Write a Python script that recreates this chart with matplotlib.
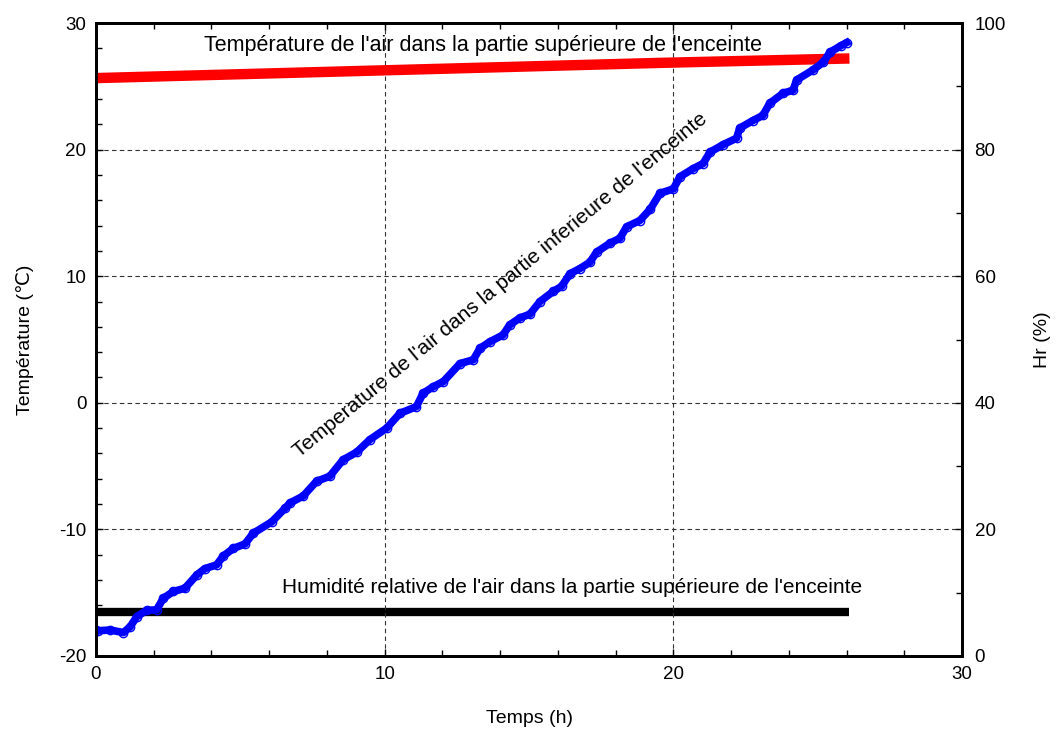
import numpy as np
import matplotlib
matplotlib.use("Agg")
import matplotlib.pyplot as plt

plt.rcParams['font.family'] = ['Liberation Sans', 'DejaVu Sans']
plt.rcParams['axes.unicode_minus'] = False

# ================================
# DATA
# ================================
# lower air temperature (blue)
t_low = [0.0, 0.08, 0.5, 0.95, 1.18, 1.41, 1.75, 2.1, 2.33, 2.68, 3.08, 3.49, 3.77,
         4.18, 4.41, 4.76, 5.16, 5.45, 6.09, 6.55, 6.73, 7.18, 7.64, 8.1, 8.56,
         9.03, 9.49, 10.07, 10.53, 11.1, 11.33, 11.68, 12.03, 12.61, 13.07, 13.3,
         13.65, 14.1, 14.33, 14.68, 15.03, 15.38, 15.84, 16.13, 16.42, 16.76,
         17.11, 17.34, 17.8, 18.15, 18.38, 18.84, 19.2, 19.54, 20.0, 20.23, 20.69,
         21.03, 21.27, 21.73, 22.19, 22.3, 22.76, 23.1, 23.34, 23.8, 24.15, 24.27,
         24.84, 25.19, 25.43, 25.8, 26.0]
T_low = [-17.95, -18.0, -17.95, -18.15, -17.7, -16.9, -16.4, -16.35, -15.45, -14.9,
         -14.65, -13.6, -13.1, -12.8, -12.1, -11.5, -11.15, -10.3, -9.4, -8.33,
         -7.9, -7.36, -6.2, -5.8, -4.5, -3.9, -2.9, -2.0, -0.83, -0.3, 0.75, 1.27,
         1.67, 3.1, 3.4, 4.3, 4.83, 5.36, 6.15, 6.7, 7.0, 8.0, 8.8, 9.2, 10.2, 10.6,
         11.1, 11.9, 12.6, 13.0, 13.9, 14.4, 15.3, 16.55, 16.9, 17.86, 18.5, 18.9,
         19.8, 20.4, 20.9, 21.7, 22.3, 22.7, 23.66, 24.45, 24.7, 25.5, 26.3, 26.9,
         27.7, 28.2, 28.45]

# upper air temperature (red)
t_up = [0.0, 6.5, 13.0, 19.5, 26.1]
T_up = [25.65, 26.05, 26.45, 26.85, 27.2]

# relative humidity (black, right axis)
t_hr = [0.0, 6.5, 13.0, 19.5, 26.1]
hr = [7.0, 7.0, 7.0, 7.0, 7.0]

# ================================
# FIGURE
# ================================
fig = plt.figure(figsize=(10.56, 7.31), dpi=100)
ax1 = fig.add_axes([0.0909, 0.1026, 0.8201, 0.8659])
ax2 = ax1.twinx()

ax1.set_zorder(ax2.get_zorder() + 1)
ax1.patch.set_visible(False)

ax2.plot(t_hr, hr, color='black', lw=6, solid_capstyle='butt')
ax1.plot(t_up, T_up, color='red', lw=7.5, solid_capstyle='butt')
ax1.plot(t_low, T_low, color='blue', lw=5.5, marker='o', ms=6, mfc='none',
         mec='blue', mew=1.0)

ax1.set_xlim(0, 30)
ax1.set_ylim(-20, 30)
ax2.set_ylim(0, 100)

ax1.set_xticks([0, 10, 20, 30])
ax1.set_xticks(np.arange(0, 31, 2), minor=True)
ax1.set_yticks([-20, -10, 0, 10, 20, 30])
ax1.set_yticks(np.arange(-20, 31, 2), minor=True)
ax2.set_yticks([0, 20, 40, 60, 80, 100])
ax2.set_yticks(np.arange(0, 101, 10), minor=True)

ax1.grid(True, which='major', color='#333333', ls=(0, (4, 3)), lw=0.8)

ax1.tick_params(which='both', direction='in', top=True, labelsize=13.5,
                width=1, pad=7)
ax1.tick_params(which='major', length=5)
ax1.tick_params(which='minor', length=4)
ax2.tick_params(which='both', direction='in', labelsize=13.5, width=1, pad=9)
ax2.tick_params(which='major', length=5)
ax2.tick_params(which='minor', length=4)

for ax in (ax1, ax2):
    for s in ax.spines.values():
        s.set_linewidth(2)

ax1.set_xlabel('Temps (h)', fontsize=14, labelpad=20)
ax1.set_ylabel('Température (℃)', fontsize=14, labelpad=18)
ax2.set_ylabel('Hr (%)', fontsize=14, labelpad=20)

# annotations
ax1.text(13.4, 28.25, "Température de l'air dans la partie supérieure de l'enceinte",
         fontsize=15.5, ha='center', va='center')
ax1.text(14.0, 9.3, "Temperature de l'air dans la partie inferieure de l'enceinte",
         fontsize=15, ha='center', va='center', rotation=39.5,
         rotation_mode='anchor')
ax1.text(16.5, -14.6, "Humidité relative de l'air dans la partie supérieure de l'enceinte",
         fontsize=15, ha='center', va='center')

fig.savefig('out.png', dpi=100)
